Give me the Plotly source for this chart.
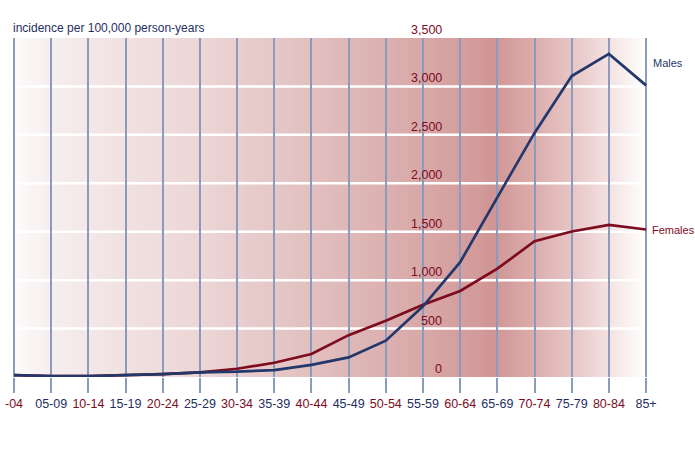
import plotly.graph_objects as go

# ---- data ----
age_groups = ["-04", "05-09", "10-14", "15-19", "20-24", "25-29", "30-34", "35-39",
              "40-44", "45-49", "50-54", "55-59", "60-64", "65-69", "70-74", "75-79",
              "80-84", "85+"]
males = [20, 10, 10, 17, 30, 48, 55, 72, 125, 202, 375, 730, 1186, 1855, 2520, 3107, 3336, 3011]
females = [20, 10, 10, 17, 30, 48, 85, 147, 237, 432, 580, 745, 888, 1118, 1402, 1502, 1571, 1523]
y_ticks = [0, 500, 1000, 1500, 2000, 2500, 3000, 3500]
y_tick_labels = ["0", "500", "1,000", "1,500", "2,000", "2,500", "3,000", "3,500"]

NAVY = "#24376b"
DRED = "#7c0c1e"
TXT_BLUE = "#1f2f5f"
GRID_BLUE = "#8a9bbd"
FONT = "Liberation Sans, Arial, sans-serif"

W, H = 695, 456
x_idx = list(range(len(age_groups)))
xr = [-0.3766, 18.316]

fig = go.Figure()
fig.add_trace(go.Scatter(x=x_idx, y=females, mode="lines", line=dict(color=DRED, width=2.7),
                         name="Females", showlegend=False))
fig.add_trace(go.Scatter(x=x_idx, y=males, mode="lines", line=dict(color=NAVY, width=2.7),
                         name="Males", showlegend=False))

# ---- background gradient (strips) ----
anchors = [
    (0.0, (253, 251, 251)),
    (1.0, (246, 238, 238)),
    (3.0, (241, 225, 225)),
    (5.0, (236, 214, 214)),
    (7.0, (229, 199, 199)),
    (9.0, (223, 184, 184)),
    (11.0, (216, 168, 168)),
    (12.4, (211, 155, 155)),
    (12.9, (208, 149, 149)),
    (14.0, (220, 173, 173)),
    (15.0, (231, 197, 197)),
    (16.0, (243, 226, 226)),
    (16.9, (254, 252, 252)),
]


def col_at(x):
    for (xa, ca), (xb, cb) in zip(anchors[:-1], anchors[1:]):
        if xa <= x <= xb:
            t = (x - xa) / (xb - xa)
            c = [round(ca[i] + (cb[i] - ca[i]) * t) for i in range(3)]
            return "rgb(%d,%d,%d)" % tuple(c)
    return "rgb(255,255,255)"


shapes = []
step = 0.05
n = int(round(16.9 / step))
for i in range(n):
    x0 = i * step
    x1 = min(x0 + 2.2 * step, 16.9)
    shapes.append(dict(type="rect", xref="x", yref="paper", x0=x0, x1=x1, y0=0, y1=1,
                       fillcolor=col_at(x0 + step / 2), line=dict(width=0), layer="below"))
for v in y_ticks[1:-1]:
    shapes.append(dict(type="line", xref="x", yref="y", x0=-0.4, x1=16.9, y0=v, y1=v,
                       line=dict(color="white", width=2.5), layer="below"))

annotations = []
for v, lab in zip(y_ticks, y_tick_labels):
    annotations.append(dict(xref="paper", yref="y", x=444 / W, y=v, xanchor="right", yanchor="middle",
                            yshift=8, text=lab, showarrow=False,
                            font=dict(color=DRED, size=12.5, family=FONT)))
annotations.append(dict(xref="paper", yref="paper", x=11 / W, y=1, xanchor="left", yanchor="bottom",
                        yshift=1, text="incidence per 100,000 person-years", showarrow=False,
                        font=dict(color=TXT_BLUE, size=12, family=FONT)))
annotations.append(dict(xref="x", yref="y", x=x_idx[-1], y=males[-1], xanchor="left", xshift=5, yshift=22,
                        text="Males", showarrow=False, font=dict(color=NAVY, size=11, family=FONT)))
annotations.append(dict(xref="x", yref="y", x=x_idx[-1], y=females[-1], xanchor="left", xshift=4, yshift=-1,
                        text="Females", showarrow=False, font=dict(color=DRED, size=11, family=FONT)))

ticktext = []
for i, a in enumerate(age_groups):
    c = DRED if i % 2 == 0 else TXT_BLUE
    ticktext.append('<span style="color:%s">%s</span>' % (c, a))

fig.update_layout(
    width=W, height=H,
    margin=dict(l=0, r=0, t=38, b=79),
    paper_bgcolor="white", plot_bgcolor="white",
    font=dict(family=FONT, size=12.5),
    shapes=shapes, annotations=annotations,
    xaxis=dict(range=xr, tickmode="array", tickvals=x_idx, ticktext=ticktext,
               showgrid=True, gridcolor=GRID_BLUE, gridwidth=2, zeroline=False, showline=False,
               ticks="outside", ticklen=15, tickwidth=2, tickcolor=GRID_BLUE,
               tickfont=dict(size=12.5, family=FONT), fixedrange=True, automargin=False),
    yaxis=dict(range=[0, 3500], showgrid=False, zeroline=False, showticklabels=False,
               showline=False, fixedrange=True, automargin=False),
)

fig.write_html("out.html", config={"displayModeBar": False},
               post_script="document.body.style.margin='0px';")
